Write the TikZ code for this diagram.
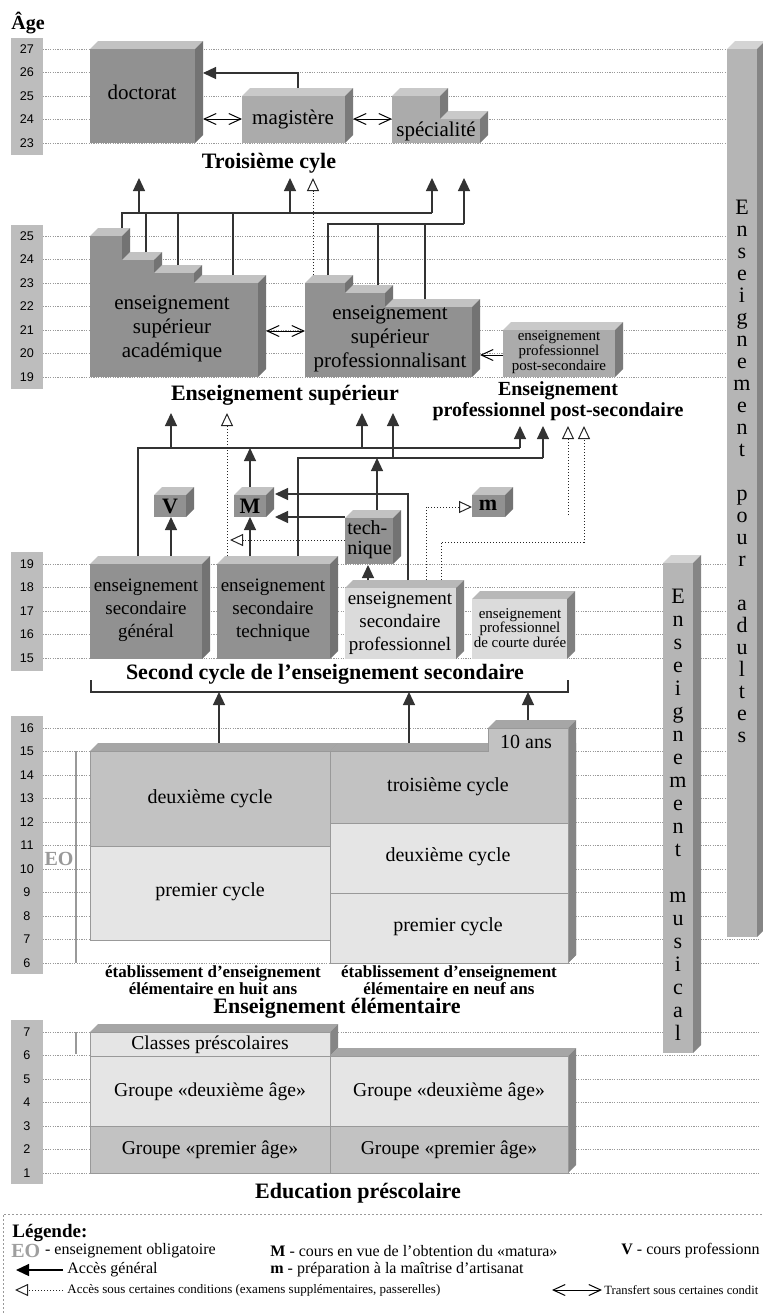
\documentclass[tikz,border=0pt]{standalone}
\usepackage{fontspec}
\setmainfont{Liberation Serif}
\newfontfamily\agefont{Liberation Sans}
\usetikzlibrary{arrows.meta}

\definecolor{axe}{gray}{0.74}
\definecolor{fonce}{gray}{0.57}
\definecolor{foncehaut}{gray}{0.76}
\definecolor{foncecote}{gray}{0.45}
\definecolor{moyen}{gray}{0.67}
\definecolor{moyenhaut}{gray}{0.79}
\definecolor{moyencote}{gray}{0.48}
\definecolor{clair}{gray}{0.86}
\definecolor{clairhaut}{gray}{0.72}
\definecolor{claircote}{gray}{0.5}
\definecolor{elmoyen}{gray}{0.76}
\definecolor{elclair}{gray}{0.9}
\definecolor{elhaut}{gray}{0.65}
\definecolor{elcote}{gray}{0.52}
\definecolor{barre}{gray}{0.71}
\definecolor{barrehaut}{gray}{0.83}
\definecolor{barrecote}{gray}{0.52}

% boite 3D : x1, y1, x2, y2, face, dessus, cote
\newcommand{\boite}[7]{%
  \fill[#6] (#1,#2) -- (#1+8,#2-8) -- (#3+8,#2-8) -- (#3,#2) -- cycle;
  \fill[#7] (#3,#2) -- (#3+8,#2-8) -- (#3+8,#4-8) -- (#3,#4) -- cycle;
  \fill[#5] (#1,#2) rectangle (#3,#4);}

\begin{document}
\begin{tikzpicture}[x=0.5pt,y=-0.5pt,
  grille/.style={gray!80,line width=0.4pt,dash pattern=on 0.6pt off 0.6pt},
  age/.style={font=\agefont\fontsize{6.3}{7}\selectfont},
  txt/.style={font=\fontsize{10.5}{12}\selectfont,align=center},
  txtsec/.style={font=\fontsize{9.5}{11.5}\selectfont,align=center},
  txtel/.style={font=\fontsize{10}{12}\selectfont,align=center},
  petit/.style={font=\fontsize{7.5}{7.4}\selectfont,align=center},
  titre/.style={font=\bfseries\fontsize{11}{10.5}\selectfont,align=center},
  etab/.style={font=\bfseries\fontsize{8.5}{8.5}\selectfont,align=center},
  lettre/.style={font=\bfseries\fontsize{11}{11}\selectfont},
  lettres/.style={font=\fontsize{11}{11}\selectfont,align=center},
  legende/.style={font=\fontsize{8}{9}\selectfont,anchor=west,inner sep=0pt},
  petitleg/.style={font=\fontsize{6.5}{8}\selectfont,anchor=west,inner sep=0pt},
  ligne/.style={black!80,line width=0.6pt},
  acces/.style={black!80,line width=0.6pt,-{Triangle[width=6pt,length=6.5pt]}},
  cond/.style={black!85,line width=0.5pt,dash pattern=on 0.6pt off 0.9pt,-{Triangle[open,width=6pt,length=6.5pt]}},
  transf/.style={black,line width=0.5pt,{Straight Barb[length=6pt,width=5.5pt]}-{Straight Barb[length=6pt,width=5.5pt]}},
  ouvert/.style={black,line width=0.5pt,-{Straight Barb[length=6pt,width=5.5pt]}},
  eo/.style={gray!80,line width=1pt}]
\useasboundingbox (0,0) rectangle (763,1313);
\clip (0,0) rectangle (763,1313);

% echelles des ages
\fill[axe] (11,38) rectangle (43,155);
\fill[axe] (11,225) rectangle (43,389);
\fill[axe] (11,552) rectangle (43,671);
\fill[axe] (11,716) rectangle (43,974);
\fill[axe] (11,1020) rectangle (43,1184);
\node[font=\bfseries\fontsize{10}{10}\selectfont] (agetitre) at (28,23) {Âge};
\foreach \a [count=\i from 0] in {27,26,...,23}
  {\draw[grille] (43,49+23.5*\i) -- (760,49+23.5*\i);
   \node[age] (trois\a) at (27,49+23.5*\i) {\a};}
\foreach \a [count=\i from 0] in {25,24,...,19}
  {\draw[grille] (43,236+23.5*\i) -- (760,236+23.5*\i);
   \node[age] (sup\a) at (27,236+23.5*\i) {\a};}
\foreach \a [count=\i from 0] in {19,18,...,15}
  {\draw[grille] (43,564+23.5*\i) -- (760,564+23.5*\i);
   \node[age] (sec\a) at (27,564+23.5*\i) {\a};}
\foreach \a [count=\i from 0] in {16,15,...,6}
  {\draw[grille] (43,728+23.5*\i) -- (760,728+23.5*\i);
   \node[age] (elem\a) at (27,728+23.5*\i) {\a};}
\foreach \a [count=\i from 0] in {7,6,...,1}
  {\draw[grille] (43,1032+23.5*\i) -- (760,1032+23.5*\i);
   \node[age] (pre\a) at (27,1032+23.5*\i) {\a};}

% enseignement pour adultes, enseignement musical
\boite{727}{49}{757}{937}{barre}{barrehaut}{barrecote}
\node[lettres] (adultes) at (742,471) {E\\n\\s\\e\\i\\g\\n\\e\\m\\e\\n\\t\\[11pt]p\\o\\u\\r\\[11pt]a\\d\\u\\l\\t\\e\\s};
\boite{663}{563}{693}{1053}{barre}{barrehaut}{barrecote}
\node[lettres,font=\fontsize{11}{11.5}\selectfont] (musical) at (678,815) {E\\n\\s\\e\\i\\g\\n\\e\\m\\e\\n\\t\\[11.5pt]m\\u\\s\\i\\c\\a\\l};

% troisieme cycle
\boite{90}{49}{195}{143}{fonce}{foncehaut}{foncecote}
\node[txt] (doc) at (142,92) {doctorat};
\boite{242}{96}{345}{143}{moyen}{moyenhaut}{moyencote}
\node[txt] (mag) at (293,119) {magistère};
\boite{392}{96}{440}{143}{moyen}{moyenhaut}{moyencote}
\boite{440}{119}{480}{143}{moyen}{moyenhaut}{moyencote}
\node[txt] (spe) at (436,131) {spécialité};
\node[titre] (ttrois) at (269,163) {Troisième cyle};
\coordinate (magN) at (298,88);
\coordinate (docE) at (203,73);
\draw[acces] (magN) |- (docE);
\draw[transf] (203,119) coordinate (docE2) -- (242,119) coordinate (magW);
\draw[transf] (353,119) coordinate (magE) -- (392,119) coordinate (speW);

% enseignement superieur
\boite{90}{236}{122}{377}{fonce}{foncehaut}{foncecote}
\boite{122}{260}{154}{377}{fonce}{foncehaut}{foncecote}
\boite{154}{273}{194}{377}{fonce}{foncehaut}{foncecote}
\boite{194}{283}{258}{377}{fonce}{foncehaut}{foncecote}
\node[txt] (acad) at (172,329) {enseignement\\supérieur\\académique};
\boite{305}{283}{345}{377}{fonce}{foncehaut}{foncecote}
\boite{345}{293}{385}{377}{fonce}{foncehaut}{foncecote}
\boite{385}{307}{472}{377}{fonce}{foncehaut}{foncecote}
\node[txt] (prof) at (390,339) {enseignement\\supérieur\\professionnalisant};
\boite{503}{330}{615}{377}{moyen}{moyenhaut}{moyencote}
\node[petit] (pps) at (559,352) {enseignement\\professionnel\\post-secondaire};
\node[titre] (tsup) at (285,395) {Enseignement supérieur};
\node[titre,font=\bfseries\fontsize{10}{10.5}\selectfont] (tpps) at (558,401) {Enseignement\\professionnel post-secondaire};

\coordinate (ac1) at (122,228);
\coordinate (ac2) at (146,252);
\coordinate (ac3) at (178,265);
\coordinate (ac4) at (233,275);
\coordinate (jA) at (432,213);
\coordinate (pr0) at (313,275);
\coordinate (pr1) at (328,275);
\coordinate (pr2) at (378,285);
\coordinate (pr3) at (425,299);
\coordinate (jB) at (464,224);
\coordinate (up1) at (139,178);
\coordinate (up2) at (290,178);
\coordinate (up3) at (432,178);
\coordinate (up4) at (464,178);
\coordinate (up5) at (313,178);
\draw[ligne] (ac1) |- (jA);
\draw[ligne] (ac2) -- (ac2 |- jA);
\draw[ligne] (ac3) -- (ac3 |- jA);
\draw[ligne] (ac4) -- (ac4 |- jA);
\draw[acces] (up1 |- jA) -- (up1);
\draw[acces] (up2 |- jA) -- (up2);
\draw[acces] (jA) -- (up3);
\draw[ligne] (pr1) |- (jB);
\draw[ligne] (pr2) -- (pr2 |- jB);
\draw[ligne] (pr3) -- (pr3 |- jB);
\draw[acces] (jB) -- (up4);
\draw[cond] (pr0) -- (up5);
\draw[transf] (266,331) coordinate (acE) -- (305,331) coordinate (prW);
\draw[ouvert] (503,355) coordinate (ppsW) -- (480,355) coordinate (prE);

% second cycle
\boite{90}{564}{202}{659}{fonce}{foncehaut}{foncecote}
\node[txtsec] (gen) at (146,610) {enseignement\\secondaire\\général};
\boite{217}{564}{330}{659}{fonce}{foncehaut}{foncecote}
\node[txtsec] (tec) at (273,610) {enseignement\\secondaire\\technique};
\boite{345}{588}{456}{659}{clair}{clairhaut}{claircote}
\node[txtsec] (psec) at (400,623) {enseignement\\secondaire\\professionnel};
\boite{472}{599}{567}{659}{clair}{clairhaut}{claircote}
\node[petit] (court) at (520,628) {enseignement\\professionnel\\de courte durée};
\boite{154}{495}{186}{517}{fonce}{foncehaut}{foncecote}
\node[lettre] (V) at (170,506) {V};
\boite{234}{495}{266}{517}{fonce}{foncehaut}{foncecote}
\node[lettre] (M) at (250,506) {M};
\boite{472}{495}{505}{517}{fonce}{foncehaut}{foncecote}
\node[lettre] (m) at (488,505) {m};
\boite{345}{518}{393}{564}{fonce}{foncehaut}{foncecote}
\node[font=\fontsize{10}{10}\selectfont,align=left,anchor=west,inner sep=1pt] (tech) at (345,540) {tech-\\nique};
\node[titre] (tsec) at (325,674) {Second cycle de l'enseignement secondaire};
\coordinate (brG) at (91,680);
\coordinate (brB) at (568,692);
\coordinate (brD) at (568,680);
\draw[ligne] (brG) |- (brB) -- (brD);

\coordinate (genN1) at (138,556);
\coordinate (genN2) at (171,556);
\coordinate (tecN1) at (227,556);
\coordinate (tecN2) at (250,556);
\coordinate (tecN3) at (298,556);
\coordinate (psN1) at (368,580);
\coordinate (psN2) at (408,580);
\coordinate (psN3) at (426,580);
\coordinate (psN4) at (441,580);
\coordinate (vS) at (171,517);
\coordinate (mS) at (250,517);
\coordinate (mN) at (250,487);
\coordinate (mE1) at (275,494);
\coordinate (mE2) at (275,517);
\coordinate (techW) at (345,517);
\coordinate (techW2) at (345,540);
\coordinate (techN) at (377,510);
\coordinate (techS) at (368,565);
\coordinate (petitmW) at (472,507);
\coordinate (jC) at (520,448);
\coordinate (jD) at (543,458);
\coordinate (jE) at (584,542);
\coordinate (cfree) at (568,515);
\coordinate (up6) at (171,413);
\coordinate (up7) at (362,413);
\coordinate (up8) at (393,413);
\coordinate (up9) at (227,413);
\coordinate (up10) at (568,426);
\coordinate (up11) at (584,426);
\draw[ligne] (genN1) |- (jC);
\draw[ligne] (tecN3) |- (jD);
\draw[acces] (up6 |- jC) -- (up6);
\draw[acces] (up7 |- jC) -- (up7);
\draw[acces] (jC) -- (jC |- up10);
\draw[acces] (up8 |- jD) -- (up8);
\draw[acces] (jD) -- (jD |- up10);
\draw[acces] (genN2) -- (vS);
\draw[acces] (tecN2) -- (mS);
\draw[acces] (mN) -- (mN |- jC);
\draw[acces] (psN2) |- (mE1);
\draw[acces] (techW) -- (mE2);
\draw[acces] (techN) -- (techN |- jD);
\draw[acces] (psN1) -- (techS);
\draw[cond] (tecN1) -- (up9);
\draw[cond] (techW2) -- (230,540);
\draw[cond] (psN3) |- (petitmW);
\draw[cond] (psN4) |- (jE) -- (up11);
\draw[cond] (cfree) -- (up10);

% enseignement elementaire
\boite{90}{751}{330}{940}{elclair}{elhaut}{elcote}
\boite{330}{751}{568}{963}{elclair}{elhaut}{elcote}
\boite{488}{728}{568}{963}{elclair}{elhaut}{elcote}
\filldraw[fill=elmoyen,draw=black!40,line width=0.4pt] (90,751) rectangle (330,846);
\filldraw[fill=elclair,draw=black!40,line width=0.4pt] (90,846) rectangle (330,940);
\filldraw[fill=elmoyen,draw=black!40,line width=0.4pt] (330,751) -- (488,751) -- (488,728) -- (568,728) -- (568,823) -- (330,823) -- cycle;
\filldraw[fill=elclair,draw=black!40,line width=0.4pt] (330,823) rectangle (568,893);
\filldraw[fill=elclair,draw=black!40,line width=0.4pt] (330,893) rectangle (568,963);
\node[txtel] (huit2) at (210,799) {deuxième cycle};
\node[txtel] (huit1) at (210,892) {premier cycle};
\node[txtel] (neuf3) at (448,787) {troisième cycle};
\node[txtel] (neuf2) at (448,857) {deuxième cycle};
\node[txtel] (neuf1) at (448,927) {premier cycle};
\node[txtel] (dixans) at (526,742) {10 ans};
\draw[eo] (76,751) -- (76,963);
\node[font=\bfseries\fontsize{10}{10}\selectfont,text=gray!80] (eo) at (59,859) {EO};
\node[etab] (etabhuit) at (213,980) {établissement d'enseignement\\élémentaire en huit ans};
\node[etab] (etabneuf) at (449,980) {établissement d'enseignement\\élémentaire en neuf ans};
\node[titre] (telem) at (337,1008) {Enseignement élémentaire};
\coordinate (el1) at (219,743);
\coordinate (el2) at (409,743);
\coordinate (el3) at (528,720);
\draw[acces] (el1) -- (el1 |- brB);
\draw[acces] (el2) -- (el2 |- brB);
\draw[acces] (el3) -- (el3 |- brB);

% education prescolaire
\boite{90}{1032}{330}{1056}{elclair}{elhaut}{elcote}
\boite{330}{1056}{568}{1173}{elclair}{elhaut}{elcote}
\filldraw[fill=elclair,draw=black!40,line width=0.4pt] (90,1032) rectangle (330,1056);
\filldraw[fill=elclair,draw=black!40,line width=0.4pt] (90,1056) rectangle (330,1126);
\filldraw[fill=elmoyen,draw=black!40,line width=0.4pt] (90,1126) rectangle (330,1173);
\filldraw[fill=elclair,draw=black!40,line width=0.4pt] (330,1056) rectangle (568,1126);
\filldraw[fill=elmoyen,draw=black!40,line width=0.4pt] (330,1126) rectangle (568,1173);
\node[txtel,font=\fontsize{9.8}{12}\selectfont] (classes) at (210,1045) {Classes préscolaires};
\node[txtel,font=\fontsize{9.8}{12}\selectfont] (deuxA) at (210,1092) {Groupe «deuxième âge»};
\node[txtel,font=\fontsize{9.8}{12}\selectfont] (deuxB) at (449,1092) {Groupe «deuxième âge»};
\node[txtel,font=\fontsize{9.8}{12}\selectfont] (premA) at (210,1150) {Groupe «premier âge»};
\node[txtel,font=\fontsize{9.8}{12}\selectfont] (premB) at (449,1150) {Groupe «premier âge»};
\draw[eo] (76,1032) -- (76,1054);
\node[titre] (tpre) at (358,1193) {Education préscolaire};

% legende
\draw[gray!80,line width=0.5pt,dash pattern=on 1pt off 1pt] (3,1313) -- (3,1214) -- (763,1214);
\node[font=\bfseries\fontsize{9.5}{10}\selectfont,anchor=west,inner sep=1pt] (leg) at (10,1233) {Légende:};
\node[font=\bfseries\fontsize{10}{10}\selectfont,text=gray!75,anchor=west,inner sep=0pt] (legEO) at (11,1251) {EO};
\node[legende] (legEOt) at ([xshift=2pt]legEO.east) {- enseignement obligatoire};
\coordinate (la1) at (63,1270);
\coordinate (la2) at (16,1270);
\draw[acces,black] (la1) -- (la2);
\node[legende] (legacc) at (67,1270) {Accès général};
\coordinate (lc1) at (63,1290);
\coordinate (lc2) at (15,1290);
\draw[cond] (lc1) -- (lc2);
\node[petitleg] (legcond) at (67,1290) {Accès sous certaines conditions (examens supplémentaires, passerelles)};
\node[legende] (legM) at (270,1251) {\textbf{M} - cours en vue de l'obtention du «matura»};
\node[legende] (legm) at (270,1270) {\textbf{m} - préparation à la maîtrise d'artisanat};
\node[legende] (legV) at (621,1251) {\textbf{V} - cours professionn};
\coordinate (lt1) at (552,1290);
\coordinate (lt2) at (602,1290);
\draw[transf] (lt1) -- (lt2);
\node[petitleg,font=\fontsize{6.3}{8}\selectfont] (legtr) at (604,1290) {Transfert sous certaines condit};
\end{tikzpicture}
\end{document}
